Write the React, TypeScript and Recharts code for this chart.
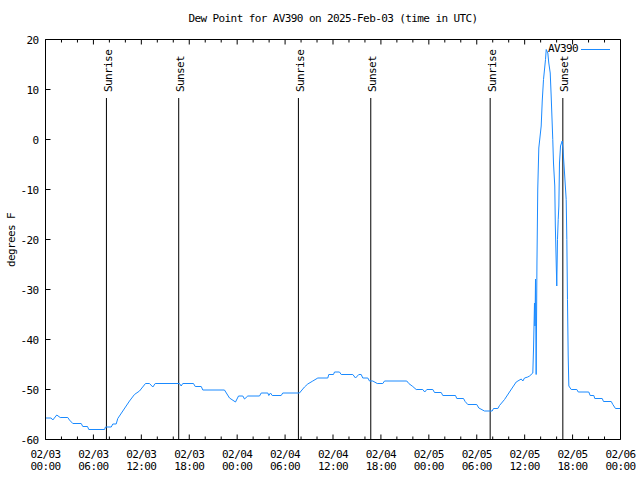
import { Legend, Line, LineChart, ReferenceLine, XAxis, YAxis } from "recharts";

// hours since 2025-02-03 00:00 UTC
const hours = [
  0, 0.71, 0.91, 1.41, 1.84, 2.79, 3.0, 3.42, 4.47, 4.67, 5.26, 5.42, 7.39, 7.51, 8.23, 8.43,
  8.85, 9.05, 9.68, 10.52, 11.14, 11.77, 12.52, 13.02, 13.44, 13.74, 16.78, 16.99, 17.19,
  18.53, 18.75, 19.5, 19.7, 22.41, 23.04, 23.79, 24.17, 24.71, 24.92, 25.33, 26.8, 27.01,
  27.84, 27.96, 28.17, 28.39, 29.51, 29.71, 31.8, 32.43, 32.84, 33.47, 34.1, 35.35, 35.47,
  36.06, 36.19, 36.81, 37.03, 38.48, 38.82, 39.23, 39.53, 39.73, 40.36, 40.57, 40.98, 41.54,
  42.24, 42.45, 45.24, 45.49, 45.99, 46.42, 47.24, 47.49, 47.75, 48.5, 48.71, 49.55, 49.75,
  51.34, 51.5, 52.34, 52.55, 52.88, 54.0, 54.26, 54.97, 55.93, 56.1, 56.64, 56.85, 57.48,
  58.1, 58.94, 59.57, 59.77, 59.98, 60.39, 60.61, 61.02, 61.11, 61.23, 61.29, 61.36, 61.44,
  61.54, 61.64, 61.77, 62.07, 62.2, 62.36, 62.61, 62.7, 62.9, 63.02, 63.2, 63.32, 63.52,
  63.61, 63.77, 63.84, 63.95, 64.02, 64.11, 64.2, 64.28, 64.36, 64.49, 64.7, 64.8, 64.99,
  65.2, 65.28, 65.36, 65.45, 65.53, 65.83, 66.53, 66.71, 68.03, 68.2, 68.66, 68.78, 69.71,
  69.87, 70.84, 71.04, 71.37, 72,
];

const dewPoint = [
  -55.7, -55.7, -56.1, -55.1, -55.6, -55.6, -56.1, -56.8, -56.8, -57.4, -57.4, -58, -58, -57.5,
  -57.5, -56.9, -56.9, -55.8, -54.3, -52.3, -51, -50.3, -48.8, -48.8, -49.5, -48.8, -48.8,
  -49.3, -48.8, -48.8, -49.4, -49.4, -50.1, -50.1, -51.7, -52.5, -51.3, -51.3, -51.9, -51.3,
  -51.3, -50.7, -50.7, -51.2, -50.7, -51.2, -51.2, -50.7, -50.7, -49.5, -48.9, -48.3, -47.7,
  -47.7, -47, -47, -46.5, -46.5, -47, -47, -47.7, -47, -47, -47.7, -47.7, -48.3, -48.3, -48.8,
  -48.8, -48.3, -48.3, -48.8, -49.4, -50, -50, -50.5, -50, -50, -50.6, -50.6, -51.2, -51.2,
  -51.8, -51.8, -52.4, -53, -53, -53.7, -54.3, -54.3, -53.8, -53.8, -53.2, -52, -50.5, -48.5,
  -47.9, -48.3, -47.7, -47.5, -47.3, -46.7, -41.9, -32.7, -37.3, -27.9, -47, -24.5, -9.9,
  -1.7, 2.7, 7.7, 12, 16, 18, 17.3, 15.3, 13.3, 8.7, 0, -4.7, -9.3, -17.3, -24.7, -29.3, -20,
  -16, -13.3, -4.7, -1.3, -0.3, -2, -6.7, -12, -20, -32, -43.3, -49.3, -50, -50, -50.5,
  -50.5, -51.2, -51.2, -51.8, -51.8, -52.4, -52.4, -53, -53.8, -53.8,
];

const sunTimes = [7.63, 16.68, 31.67, 40.73, 55.68, 64.78];
const sunLabels = ["Sunrise", "Sunset", "Sunrise", "Sunset", "Sunrise", "Sunset"];

const majorTicks = [0, 6, 12, 18, 24, 30, 36, 42, 48, 54, 60, 66, 72];
const dateLabels = ["02/03", "02/03", "02/03", "02/03", "02/04", "02/04", "02/04", "02/04", "02/05", "02/05", "02/05", "02/05", "02/06"];
const timeLabels = ["00:00", "06:00", "12:00", "18:00", "00:00", "06:00", "12:00", "18:00", "00:00", "06:00", "12:00", "18:00", "00:00"];
const xTicks = majorTicks.flatMap((h) => (h < 72 ? [h, h + 2, h + 4] : [h]));
const yTicks = [-60, -50, -40, -30, -20, -10, 0, 10, 20];

const data = hours.map((h, i) => ({ h, v: dewPoint[i] }));

const FONT = '"DejaVu Sans Mono", monospace';
const txt = { fontFamily: FONT, fontSize: 11, letterSpacing: -0.6, fill: "#000" };
const LINE = "#1a8aff";

const BottomTick = ({ x, y, payload }: any) => {
  const i = majorTicks.indexOf(payload.value);
  const major = i >= 0;
  return (
    <g>
      <line x1={x} y1={y} x2={x} y2={y - (major ? 5 : 3)} stroke="#000" />
      {major && (
        <text x={x} y={y} textAnchor="middle" {...txt}>
          <tspan x={x} dy={18}>{dateLabels[i]}</tspan>
          <tspan x={x} dy={12}>{timeLabels[i]}</tspan>
        </text>
      )}
    </g>
  );
};

const TopTick = ({ x, y, payload }: any) => {
  const major = majorTicks.includes(payload.value);
  return <line x1={x} y1={y} x2={x} y2={y + (major ? 5 : 3)} stroke="#000" />;
};

const LeftTick = ({ x, y, payload }: any) => (
  <g>
    <line x1={x} y1={y} x2={x + 5} y2={y} stroke="#000" />
    <text x={x - 7} y={y + 4} textAnchor="end" {...txt}>
      {payload.value}
    </text>
  </g>
);

const RightTick = ({ x, y }: any) => <line x1={x} y1={y} x2={x - 5} y2={y} stroke="#000" />;

const sunLabel = (text: string) => (props: any) => {
  const vb = props.viewBox || {};
  return (
    <text transform={`translate(${vb.x + 5.5},${vb.y - 6}) rotate(-90)`} textAnchor="start" {...txt}>
      {text}
    </text>
  );
};

const LegendBox = () => (
  <svg width={120} height={16}>
    <text x={78} y={11} textAnchor="end" {...txt}>
      AV390
    </text>
    <line x1={81} y1={8.5} x2={110} y2={8.5} stroke={LINE} />
  </svg>
);

export default function App() {
  return (
    <div style={{ position: "absolute", left: 0, top: 0, width: 640, height: 480, background: "#fff" }}>
      <div
        style={{
          position: "absolute",
          left: 45.5,
          width: 575,
          top: 12,
          textAlign: "center",
          fontFamily: FONT,
          fontSize: 11,
          letterSpacing: -0.6,
          lineHeight: "14px",
          color: "#000",
        }}
      >
        Dew Point for AV390 on 2025-Feb-03 (time in UTC)
      </div>
      <LineChart width={640} height={480} data={data} margin={{ top: 0, right: 0, bottom: 0, left: 0 }}>
        <XAxis
          xAxisId="bottom"
          dataKey="h"
          type="number"
          domain={[0, 72]}
          ticks={xTicks}
          interval={0}
          height={40.5}
          tickSize={0}
          tickMargin={0}
          tickLine={false}
          axisLine={{ stroke: "#000" }}
          tick={<BottomTick />}
        />
        <XAxis
          xAxisId="top"
          orientation="top"
          dataKey="h"
          type="number"
          domain={[0, 72]}
          ticks={xTicks}
          interval={0}
          height={39.5}
          tickSize={0}
          tickMargin={0}
          tickLine={false}
          axisLine={{ stroke: "#000" }}
          tick={<TopTick />}
        />
        <YAxis
          yAxisId="left"
          type="number"
          domain={[-60, 20]}
          ticks={yTicks}
          interval={0}
          width={45.5}
          tickSize={0}
          tickMargin={0}
          tickLine={false}
          axisLine={{ stroke: "#000" }}
          tick={<LeftTick />}
          label={() => (
            <text transform="translate(15,240) rotate(-90)" textAnchor="middle" {...txt}>
              degrees F
            </text>
          )}
        />
        <YAxis
          yAxisId="right"
          orientation="right"
          type="number"
          domain={[-60, 20]}
          ticks={yTicks}
          interval={0}
          width={19.5}
          tickSize={0}
          tickMargin={0}
          tickLine={false}
          axisLine={{ stroke: "#000" }}
          tick={<RightTick />}
        />
        {sunTimes.map((t, i) => (
          <ReferenceLine
            key={i}
            xAxisId="bottom"
            yAxisId="left"
            segment={[
              { x: t, y: -60 },
              { x: t, y: 8.3 },
            ]}
            stroke="#000"
            strokeWidth={1}
            label={sunLabel(sunLabels[i])}
          />
        ))}
        <Line
          xAxisId="bottom"
          yAxisId="left"
          dataKey="v"
          type="linear"
          stroke={LINE}
          strokeWidth={1}
          dot={false}
          isAnimationActive={false}
        />
        <Legend
          layout="vertical"
          align="center"
          verticalAlign="middle"
          wrapperStyle={{ top: 41, left: 500, width: 120, height: 16 }}
          content={() => <LegendBox />}
        />
      </LineChart>
    </div>
  );
}
